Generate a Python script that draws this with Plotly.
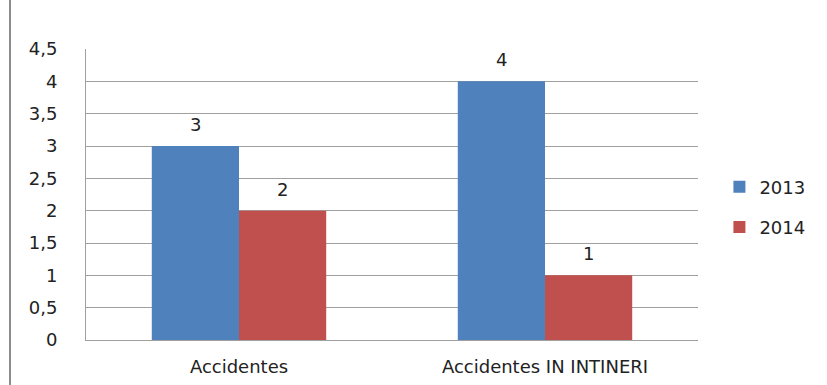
import plotly.graph_objects as go

categories = ["Accidentes", "Accidentes IN INTINERI"]
series_names = ["2013", "2014"]
values_2013 = [3, 4]
values_2014 = [2, 1]
y_ticks = [0, 0.5, 1, 1.5, 2, 2.5, 3, 3.5, 4, 4.5]
y_tick_labels = ["0", "0,5", "1", "1,5", "2", "2,5", "3", "3,5", "4", "4,5"]

colors = ["#4F81BD", "#C0504D"]
FAM = "DejaVu Sans"
tick_font = dict(family=FAM, size=18, color="#222222")

fig = go.Figure()
for i, (name, vals, col) in enumerate(zip(series_names, [values_2013, values_2014], colors)):
    fig.add_trace(go.Bar(
        x=categories, y=vals, name=name, marker_color=col,
        marker_line_width=0, legendgroup=name,
    ))

# value labels above bars (offset to each bar's centre within the group)
PLOT_W = 827 - 86 - 129
bar_w = PLOT_W / len(categories) * (1 - 0.43) / 2
annotations = []
for i, vals in enumerate([values_2013, values_2014]):
    shift = (i - 0.5) * bar_w
    for c, v in zip(categories, vals):
        annotations.append(dict(
            x=c, y=v, xref="x", yref="y", text=str(v), showarrow=False,
            xshift=shift, yshift=9, yanchor="bottom",
            font=dict(family=FAM, size=18, color="#222222"),
        ))

fig.update_layout(
    width=827, height=385,
    margin=dict(l=86, r=129, t=49, b=45, autoexpand=False),
    paper_bgcolor="white", plot_bgcolor="white",
    barmode="group", bargap=0.43, bargroupgap=0,
    font=tick_font,
    showlegend=True,
    legend=dict(x=1.035, y=0.457, yanchor="middle", xanchor="left",
                font=dict(family=FAM, size=18, color="#222222"),
                itemwidth=30, tracegroupgap=14),
    xaxis=dict(showgrid=False, showline=True, linecolor="#A0A0A0", linewidth=1,
               ticks="", tickfont=tick_font, ticklabelstandoff=10, automargin=False),
    yaxis=dict(range=[0, 4.5], tickvals=y_ticks, ticktext=y_tick_labels,
               showgrid=True, gridcolor="#A0A0A0", gridwidth=1,
               showline=True, linecolor="#A0A0A0", linewidth=1,
               zeroline=False, ticks="", tickfont=tick_font, ticklabelstandoff=24,
               automargin=False),
    annotations=annotations,
    shapes=[dict(type="line", xref="paper", yref="paper",
                 x0=-76/612, x1=-76/612, y0=-45/291, y1=1 + 49/291,
                 line=dict(color="#8C8C8C", width=2))],
)

fig.write_html("out.html")
